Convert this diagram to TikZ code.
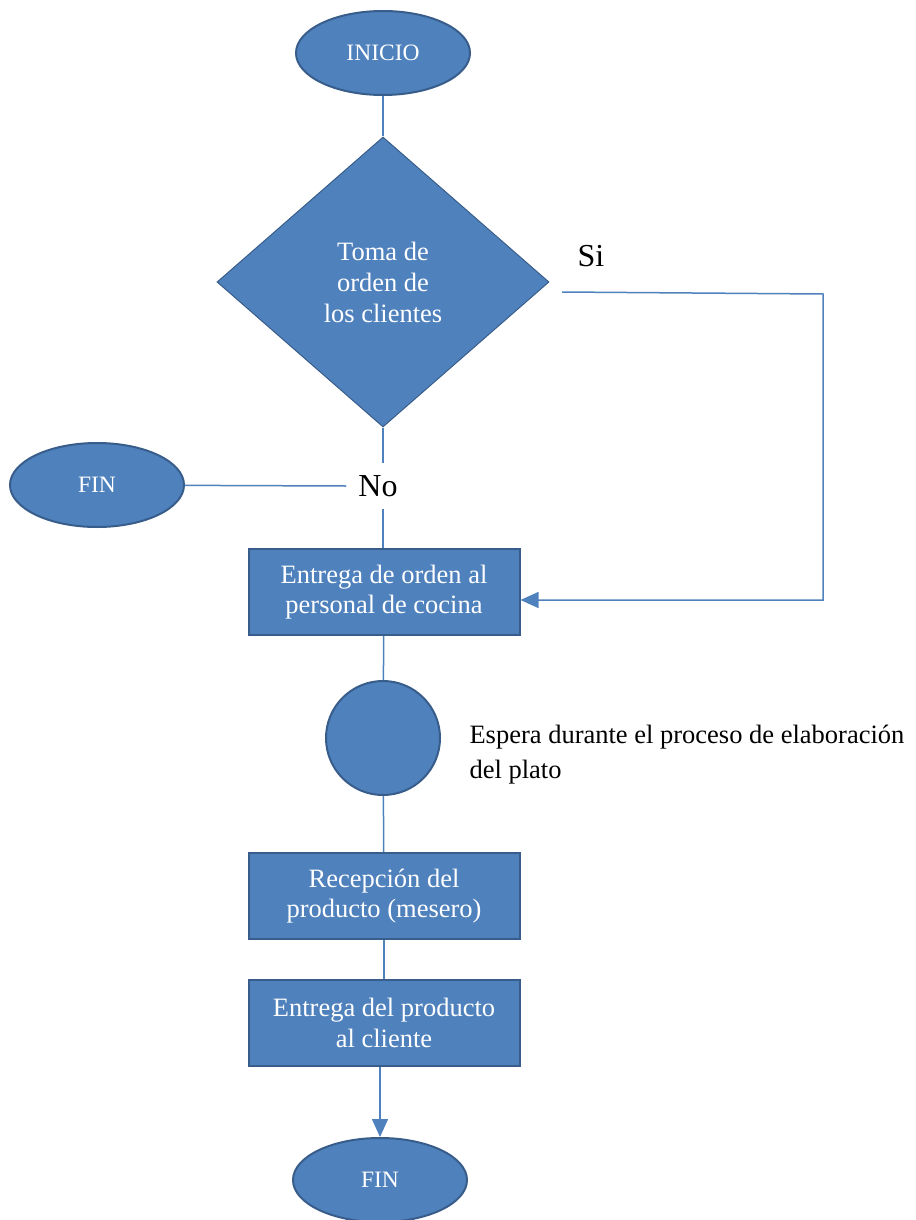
\documentclass[tikz,border=0pt]{standalone}
\usepackage{fontspec}
\setmainfont{Liberation Serif}
\usetikzlibrary{shapes.geometric, arrows.meta, positioning, calc}
\definecolor{boxblue}{HTML}{4F81BD}
\definecolor{edgeblue}{HTML}{385D8A}

\begin{document}
\begin{tikzpicture}[x=1pt, y=-1pt,
  term/.style={ellipse, draw=edgeblue, line width=2pt, fill=boxblue, text=white, minimum width=174pt, minimum height=84pt, inner sep=0pt, font=\fontsize{23.5}{28}\selectfont},
  proc/.style={rectangle, draw=edgeblue, line width=2pt, fill=boxblue, text=white, minimum width=271pt, minimum height=86pt, align=center, inner sep=0pt, font=\fontsize{26.5}{30.5}\selectfont},
  dec/.style={diamond, draw=edgeblue, line width=1pt, fill=boxblue, text=white, minimum width=332pt, minimum height=290pt, align=center, inner sep=0pt, font=\fontsize{26.5}{31}\selectfont},
  wait/.style={circle, draw=edgeblue, line width=2pt, fill=boxblue, minimum size=114pt, inner sep=0pt},
  lbl/.style={font=\fontsize{32}{36}\selectfont},
  conn/.style={draw=boxblue, line width=1.5pt},
  arr/.style={conn, -{Triangle[length=18pt, width=16pt]}}
]
\useasboundingbox (0,0) rectangle (915,1220);

\node[term] (inicio) at (383, 53) {INICIO};
\node[dec] (toma) at (383, 282) {Toma de\\orden de\\los clientes};
\node[term] (finA) at (97, 485) {FIN};
\node[lbl, inner sep=12pt, yshift=-2pt] (no) at (378, 484) {No};
\node[lbl] (si) at (591, 256) {Si};
\node[proc] (entrega) at (384, 592) {Entrega de orden al\\personal de cocina};
\node[wait] (espera) at (383, 738) {};
\node[anchor=west, align=left, font=\fontsize{26.5}{35}\selectfont] (nota) at (466, 755) {Espera durante el proceso de elaboración\\del plato};
\node[proc] (recep) at (384, 896) {Recepción del\\producto (mesero)};
\node[proc] (cliente) at (384, 1023) {Entrega del producto\\al cliente};
\node[term] (finB) at (380, 1180) {FIN};

\coordinate (siA) at (562, 292);
\coordinate (siB) at (823, 294);

\draw[conn] (inicio) -- (toma);
\draw[conn] (toma.south) -- (toma.south |- no.north);
\draw[conn] (entrega.north -| toma.south) -- (toma.south |- no.south);
\draw[conn] (finA) -- (no.west);
\draw[arr] (siA) -- (siB) |- ([yshift=-8pt]entrega.east);
\draw[conn] (entrega) -- (espera);
\draw[conn] (espera) -- (recep);
\draw[conn] (recep) -- (cliente);
\draw[arr] (cliente.south -| finB) -- (finB);

\end{tikzpicture}
\end{document}
